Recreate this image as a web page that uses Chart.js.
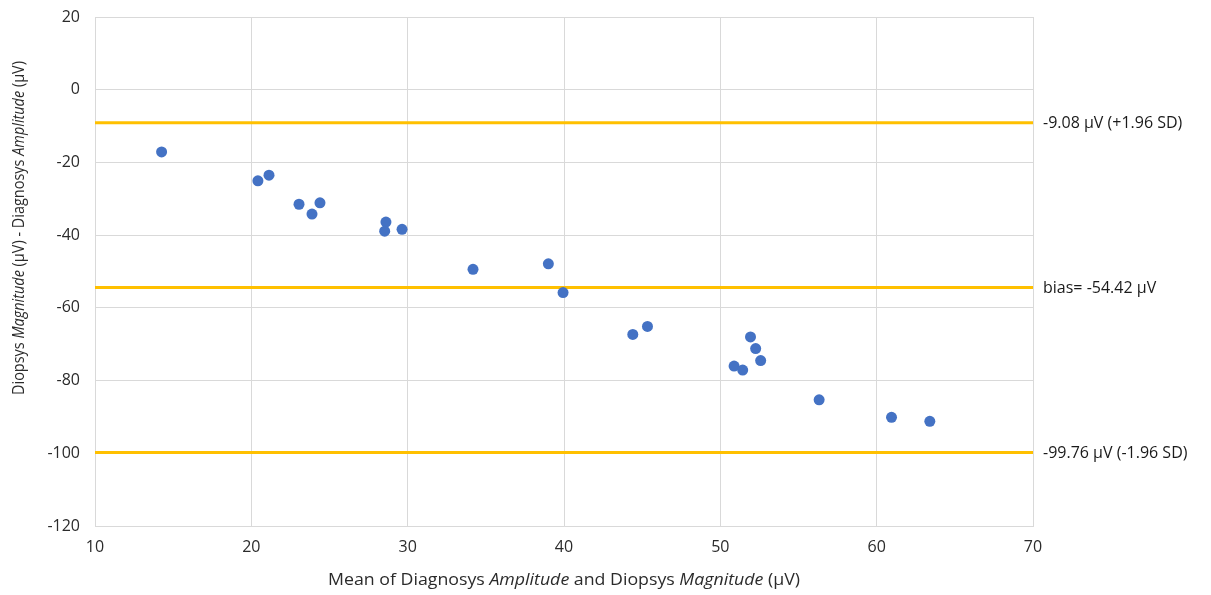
<!DOCTYPE html>
<html>
<head>
<meta charset="utf-8">
<script src="https://cdn.jsdelivr.net/npm/chart.js@4.4.0/dist/chart.umd.min.js"></script>
<style>
  html, body { margin: 0; padding: 0; background: #fff; }
  #wrap { width: 1211px; height: 595px; }
</style>
</head>
<body>
<div id="wrap"><canvas id="blandAltman" width="1211" height="595"></canvas></div>
<script>
// mean of the two devices (µV)
const meanValues = [
  14.26, 20.42, 21.13, 23.05, 23.88, 24.39, 28.61, 28.53, 29.64, 34.18, 39.0,
  39.94, 44.4, 45.34, 51.93, 52.26, 52.58, 50.88, 51.43, 56.32, 60.95, 63.4
];
// Diopsys - Diagnosys difference (µV)
const diffValues = [
  -17.1, -25.05, -23.5, -31.5, -34.2, -31.1, -36.4, -38.9, -38.4, -49.4, -47.9,
  -55.8, -67.3, -65.1, -68.0, -71.2, -74.5, -76.0, -77.1, -85.3, -90.1, -91.2
];
// bias and limits of agreement
const limitValues = [-9.08, -54.42, -99.76];
const limitSuffixes = [' µV (+1.96 SD)', ' µV', ' µV (-1.96 SD)'];
const limitPrefixes = ['', 'bias= ', ''];

const xTicks = [10, 20, 30, 40, 50, 60, 70];
const yTicks = [20, 0, -20, -40, -60, -80, -100, -120];

const xTitle = [
  ['Mean of Diagnosys ', false], ['Amplitude', true], [' and Diopsys ', false],
  ['Magnitude', true], [' (µV)', false]
];
const yTitle = [
  ['Diopsys ', false], ['Magnitude', true], [' (µV) - Diagnosys ', false],
  ['Amplitude', true], [' (µV)', false]
];

const FONT = '"Open Sans", "Noto Sans", sans-serif';
const TEXT = '#2b2b2b';

// draws a title made of plain/italic pieces, squeezed to a given length
function drawSegments(ctx, parts, size, length) {
  const fontFor = it => (it ? 'italic ' : '') + size + 'px ' + FONT;
  let total = 0;
  parts.forEach(p => { ctx.font = fontFor(p[1]); total += ctx.measureText(p[0]).width; });
  const sx = length / total;
  ctx.scale(sx, 1);
  let x = -total / 2;
  parts.forEach(p => {
    ctx.font = fontFor(p[1]);
    ctx.fillText(p[0], x, 0);
    x += ctx.measureText(p[0]).width;
  });
}

const annotations = {
  id: 'annotations',
  afterDraw(chart) {
    const ctx = chart.ctx;
    const area = chart.chartArea;
    const y = chart.scales.y;
    ctx.save();
    ctx.textBaseline = 'middle';
    ctx.textAlign = 'left';

    // limit labels to the right of the plot
    ctx.fillStyle = '#1a1a1a';
    ctx.font = '16px ' + FONT;
    limitValues.forEach((v, i) => {
      ctx.fillText(limitPrefixes[i] + v.toFixed(2) + limitSuffixes[i], area.right + 10, y.getPixelForValue(v) + 1);
    });

    // x axis title
    ctx.fillStyle = TEXT;
    ctx.save();
    ctx.translate((area.left + area.right) / 2, 580);
    drawSegments(ctx, xTitle, 16, 472);
    ctx.restore();

    // y axis title
    ctx.save();
    ctx.translate(19, 228);
    ctx.rotate(-Math.PI / 2);
    drawSegments(ctx, yTitle, 16.5, 334);
    ctx.restore();

    ctx.restore();
  }
};

const limitDatasets = limitValues.map(v => ({
  type: 'line',
  data: [{ x: xTicks[0], y: v }, { x: xTicks[xTicks.length - 1], y: v }],
  borderColor: '#FFC000',
  borderWidth: 3,
  pointRadius: 0,
  order: 2
}));

new Chart(document.getElementById('blandAltman'), {
  type: 'scatter',
  data: {
    datasets: [
      {
        data: meanValues.map((m, i) => ({ x: m, y: diffValues[i] })),
        backgroundColor: '#4472C4',
        borderColor: '#4472C4',
        borderWidth: 0,
        pointRadius: 5.5,
        order: 1
      },
      ...limitDatasets
    ]
  },
  options: {
    responsive: false,
    animation: false,
    layout: { padding: { top: 17, right: 178, bottom: 0, left: 0 } },
    plugins: { legend: { display: false }, tooltip: { enabled: false } },
    scales: {
      x: {
        type: 'linear',
        min: xTicks[0],
        max: xTicks[xTicks.length - 1],
        afterBuildTicks: s => { s.ticks = xTicks.map(v => ({ value: v })); },
        afterFit: s => { s.height = 69; s.paddingLeft = 0; s.paddingRight = 0; },
        grid: { color: '#D9D9D9', drawTicks: false, lineWidth: 1 },
        border: { display: true, color: '#D9D9D9' },
        ticks: { color: TEXT, font: { family: FONT, size: 16 }, padding: 12 }
      },
      y: {
        type: 'linear',
        min: yTicks[yTicks.length - 1],
        max: yTicks[0],
        afterBuildTicks: s => { s.ticks = yTicks.slice().reverse().map(v => ({ value: v })); },
        afterFit: s => { s.width = 95; s.paddingTop = 0; s.paddingBottom = 0; },
        grid: { color: '#D9D9D9', drawTicks: false, lineWidth: 1 },
        border: { display: true, color: '#D9D9D9' },
        ticks: { color: TEXT, font: { family: FONT, size: 16 }, padding: 15 }
      }
    }
  },
  plugins: [annotations]
});
</script>
</body>
</html>
